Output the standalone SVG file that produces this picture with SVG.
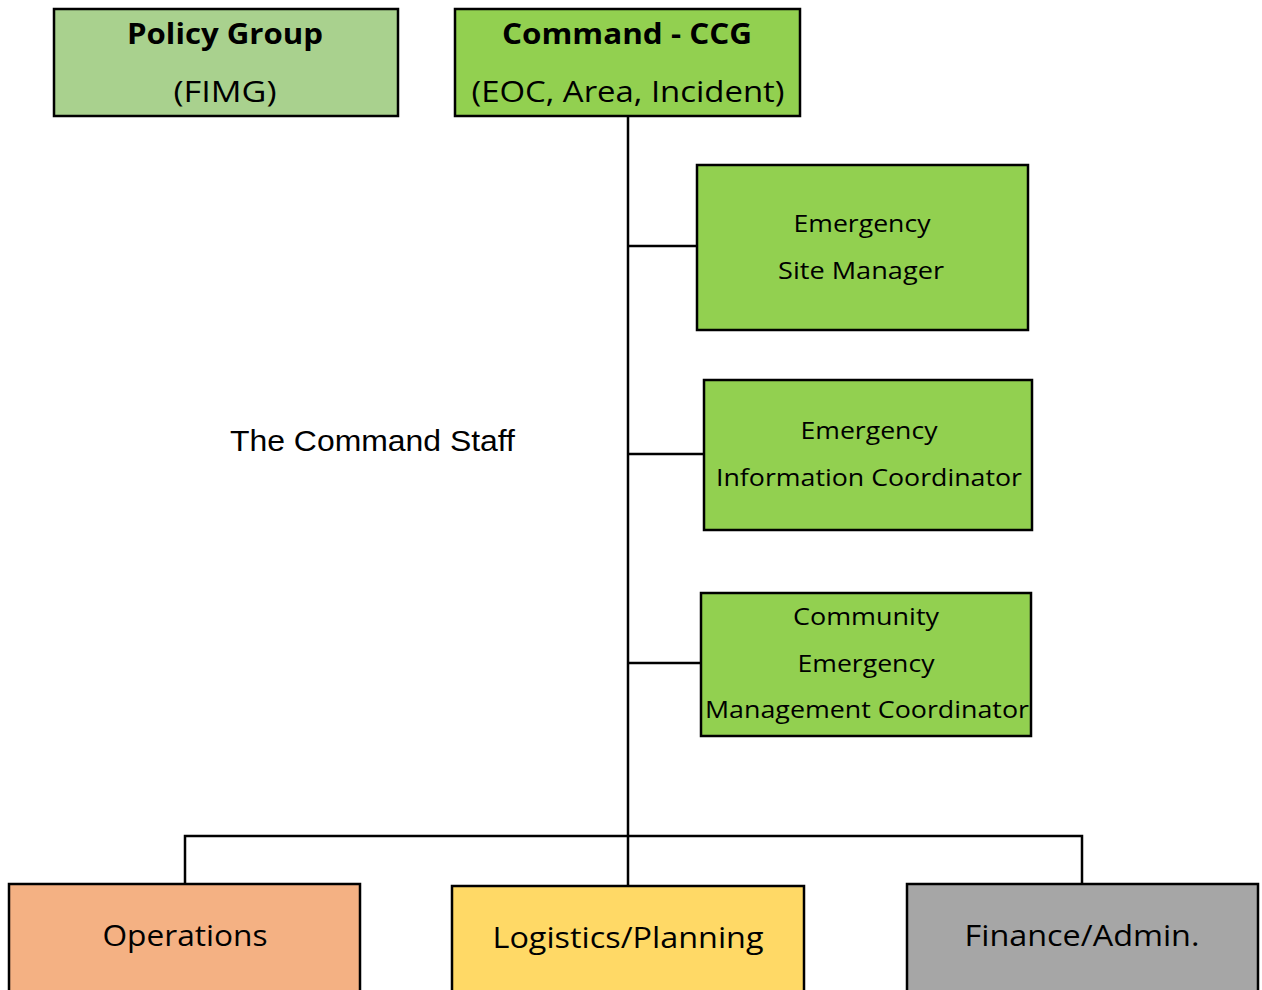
<svg xmlns="http://www.w3.org/2000/svg" width="1262" height="990" viewBox="0 0 1262 990">
<style>
.box{stroke:#000;stroke-width:2.5}
.t{font-family:"Open Sans","Noto Sans","Liberation Sans",sans-serif;fill:#000;text-anchor:middle}
.b{font-weight:bold}
.conn{stroke:#000;stroke-width:2.5;fill:none}
</style>
<rect width="1262" height="990" fill="#fff"/>
<g id="connectors">
<line class="conn" x1="628" y1="116" x2="628" y2="886"/>
<line class="conn" x1="628" y1="246" x2="697" y2="246"/>
<line class="conn" x1="628" y1="454" x2="704" y2="454"/>
<line class="conn" x1="628" y1="663" x2="701" y2="663"/>
<polyline class="conn" points="185,884 185,836 1082,836 1082,884"/>
</g>
<g id="policy">
<rect class="box" x="54" y="9" width="344" height="107" fill="#A9D18E"/>
<text class="t b" x="225" y="44" font-size="28" textLength="196" lengthAdjust="spacingAndGlyphs">Policy Group</text>
<text class="t" x="225" y="102" font-size="30" textLength="103" lengthAdjust="spacingAndGlyphs">(FIMG)</text>
</g>
<g id="command">
<rect class="box" x="455" y="9" width="345" height="107" fill="#92D050"/>
<text class="t b" x="627" y="44" font-size="28" textLength="250" lengthAdjust="spacingAndGlyphs">Command - CCG</text>
<text class="t" x="628" y="102" font-size="30" textLength="313" lengthAdjust="spacingAndGlyphs">(EOC, Area, Incident)</text>
</g>
<g id="site-manager">
<rect class="box" x="697" y="165" width="331" height="165" fill="#92D050"/>
<text class="t" x="862" y="232" font-size="23" textLength="137" lengthAdjust="spacingAndGlyphs">Emergency</text>
<text class="t" x="861" y="279" font-size="23" textLength="166" lengthAdjust="spacingAndGlyphs">Site Manager</text>
</g>
<g id="info-coordinator">
<rect class="box" x="704" y="380" width="328" height="150" fill="#92D050"/>
<text class="t" x="869" y="439" font-size="23" textLength="137" lengthAdjust="spacingAndGlyphs">Emergency</text>
<text class="t" x="869" y="486" font-size="23" textLength="306" lengthAdjust="spacingAndGlyphs">Information Coordinator</text>
</g>
<g id="cem-coordinator">
<rect class="box" x="701" y="593" width="330" height="143" fill="#92D050"/>
<text class="t" x="866" y="625" font-size="23" textLength="146" lengthAdjust="spacingAndGlyphs">Community</text>
<text class="t" x="866" y="672" font-size="23" textLength="137" lengthAdjust="spacingAndGlyphs">Emergency</text>
<text class="t" x="867" y="718" font-size="23" textLength="324" lengthAdjust="spacingAndGlyphs">Management Coordinator</text>
</g>
<g id="command-staff-label">
<text x="230" y="451" font-family="Liberation Sans,Arial,sans-serif" font-size="29" fill="#000" textLength="285" lengthAdjust="spacingAndGlyphs">The Command Staff</text>
</g>
<g id="operations">
<rect class="box" x="9" y="884" width="351" height="110" fill="#F4B183"/>
<text class="t" x="185" y="946" font-size="30" textLength="165" lengthAdjust="spacingAndGlyphs">Operations</text>
</g>
<g id="logistics">
<rect class="box" x="452" y="886" width="352" height="108" fill="#FFD966"/>
<text class="t" x="628" y="948" font-size="30" textLength="271" lengthAdjust="spacingAndGlyphs">Logistics/Planning</text>
</g>
<g id="finance">
<rect class="box" x="907" y="884" width="351" height="110" fill="#A6A6A6"/>
<text class="t" x="1082" y="946" font-size="30" textLength="235" lengthAdjust="spacingAndGlyphs">Finance/Admin.</text>
</g>
</svg>
